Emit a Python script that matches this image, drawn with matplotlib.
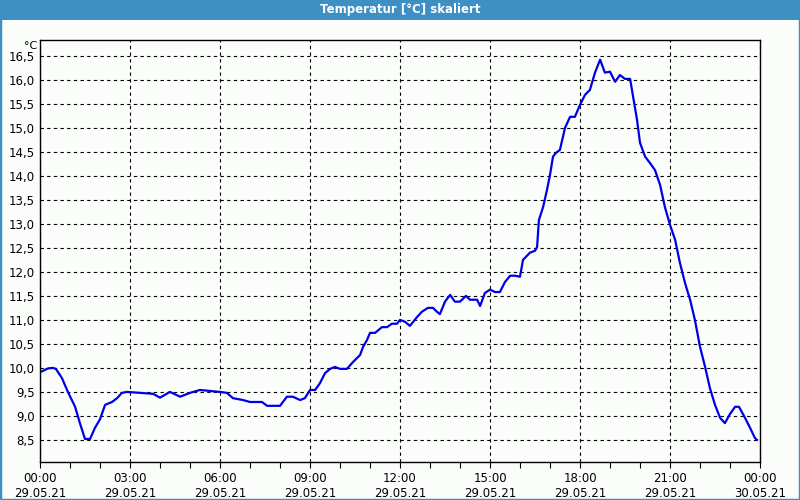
import matplotlib
matplotlib.use("Agg")
import matplotlib.pyplot as plt
from matplotlib.patches import Rectangle

# time in hours since 29.05.21 00:00
hours = [0.0, 0.27, 0.43, 0.53, 0.73, 0.93, 1.17, 1.33, 1.5, 1.67, 1.83, 2.0,
         2.17, 2.4, 2.57, 2.73, 2.9, 3.33, 3.77, 4.0, 4.33, 4.67, 5.0, 5.33,
         5.67, 6.0, 6.23, 6.43, 6.77, 7.0, 7.4, 7.57, 8.0, 8.23, 8.43, 8.67,
         8.83, 9.0, 9.17, 9.33, 9.5, 9.67, 9.83, 10.0, 10.23, 10.43, 10.67,
         10.77, 10.9, 11.0, 11.17, 11.4, 11.57, 11.73, 11.9, 12.0, 12.17,
         12.33, 12.57, 12.73, 12.93, 13.1, 13.23, 13.33, 13.5, 13.67, 13.83,
         14.0, 14.2, 14.33, 14.57, 14.67, 14.83, 15.0, 15.17, 15.33, 15.5,
         15.67, 15.83, 16.0, 16.1, 16.33, 16.5, 16.57, 16.63, 16.77, 16.9,
         17.0, 17.1, 17.2, 17.33, 17.5, 17.67, 17.83, 18.0, 18.17, 18.33,
         18.5, 18.67, 18.83, 19.0, 19.17, 19.33, 19.5, 19.67, 19.77, 19.9,
         20.0, 20.17, 20.33, 20.5, 20.67, 20.83, 21.0, 21.17, 21.33, 21.5,
         21.67, 21.83, 22.0, 22.17, 22.33, 22.5, 22.67, 22.83, 23.0, 23.17,
         23.3, 23.5, 23.67, 23.83, 23.9]
temps = [9.91, 9.99, 10.0, 9.98, 9.79, 9.5, 9.19, 8.85, 8.52, 8.52, 8.75, 8.93,
         9.23, 9.29, 9.37, 9.48, 9.5, 9.48, 9.46, 9.38, 9.5, 9.4, 9.48, 9.54,
         9.52, 9.5, 9.48, 9.37, 9.33, 9.29, 9.29, 9.21, 9.21, 9.4, 9.4, 9.33,
         9.37, 9.54, 9.54, 9.68, 9.89, 9.98, 10.02, 9.98, 9.98, 10.12, 10.27,
         10.44, 10.58, 10.73, 10.73, 10.85, 10.85, 10.92, 10.92, 11.0, 10.96,
         10.875, 11.06, 11.17, 11.25, 11.25, 11.17, 11.12, 11.38, 11.52, 11.38,
         11.38, 11.5, 11.42, 11.42, 11.29, 11.56, 11.63, 11.58, 11.58, 11.79,
         11.92, 11.92, 11.9, 12.25, 12.4, 12.44, 12.52, 13.08, 13.35, 13.71,
         14.02, 14.4, 14.48, 14.54, 15.0, 15.23, 15.23, 15.48, 15.69, 15.79,
         16.15, 16.42, 16.15, 16.17, 15.96, 16.1, 16.02, 16.02, 15.65, 15.17,
         14.69, 14.4, 14.27, 14.12, 13.81, 13.35, 12.98, 12.67, 12.19, 11.77,
         11.42, 11.0, 10.44, 10.02, 9.58, 9.23, 8.96, 8.85, 9.04, 9.19,
         9.19, 8.96, 8.75, 8.54, 8.5]

x_ticks = [0, 3, 6, 9, 12, 15, 18, 21, 24]
x_labels = ["00:00\n29.05.21", "03:00\n29.05.21", "06:00\n29.05.21",
            "09:00\n29.05.21", "12:00\n29.05.21", "15:00\n29.05.21",
            "18:00\n29.05.21", "21:00\n29.05.21", "00:00\n30.05.21"]
y_ticks = [8.5, 9.0, 9.5, 10.0, 10.5, 11.0, 11.5, 12.0, 12.5, 13.0, 13.5,
           14.0, 14.5, 15.0, 15.5, 16.0, 16.5]

bg = "#fbfdfb"
bar_blue = "#3d8fc4"

fig = plt.figure(figsize=(8, 5), dpi=100, facecolor=bg)
fig.patches.append(Rectangle((0, 0), 1, 1, transform=fig.transFigure,
                             fill=False, edgecolor=bar_blue, linewidth=2.5))
fig.patches.append(Rectangle((0, 0.96), 1, 0.04, transform=fig.transFigure,
                             facecolor=bar_blue, edgecolor="none"))
fig.text(0.5, 0.98, "Temperatur [°C] skaliert", color="white",
         fontweight="bold", fontsize=8.5, ha="center", va="center")

ax = fig.add_axes([0.05, 0.076, 0.9, 0.844], facecolor=bg)
ax.plot(hours, temps, color="#0000e6", linewidth=1.6)

ax.set_xlim(0, 24)
ax.set_ylim(8.04, 16.83)
ax.set_xticks(x_ticks)
ax.set_xticklabels(x_labels, fontsize=8.5)
ax.set_xticks(range(0, 25), minor=True)
ax.set_yticks(y_ticks)
ax.set_yticklabels([f"{v:.1f}".replace(".", ",") for v in y_ticks], fontsize=8.5)

ax.tick_params(axis="x", which="both", direction="out", length=4, width=0.8, pad=3)
ax.tick_params(axis="y", length=0, pad=4)
ax.grid(True, which="major", color="black", linestyle=(0, (3, 3)), linewidth=0.8)
for s in ax.spines.values():
    s.set_linewidth(1.0)

# unit label above the y tick labels
ax.text(-0.004, 0.979, "°C", transform=ax.transAxes, ha="right", va="baseline",
        fontsize=8)

fig.savefig("out.png", dpi=100, facecolor=bg)
